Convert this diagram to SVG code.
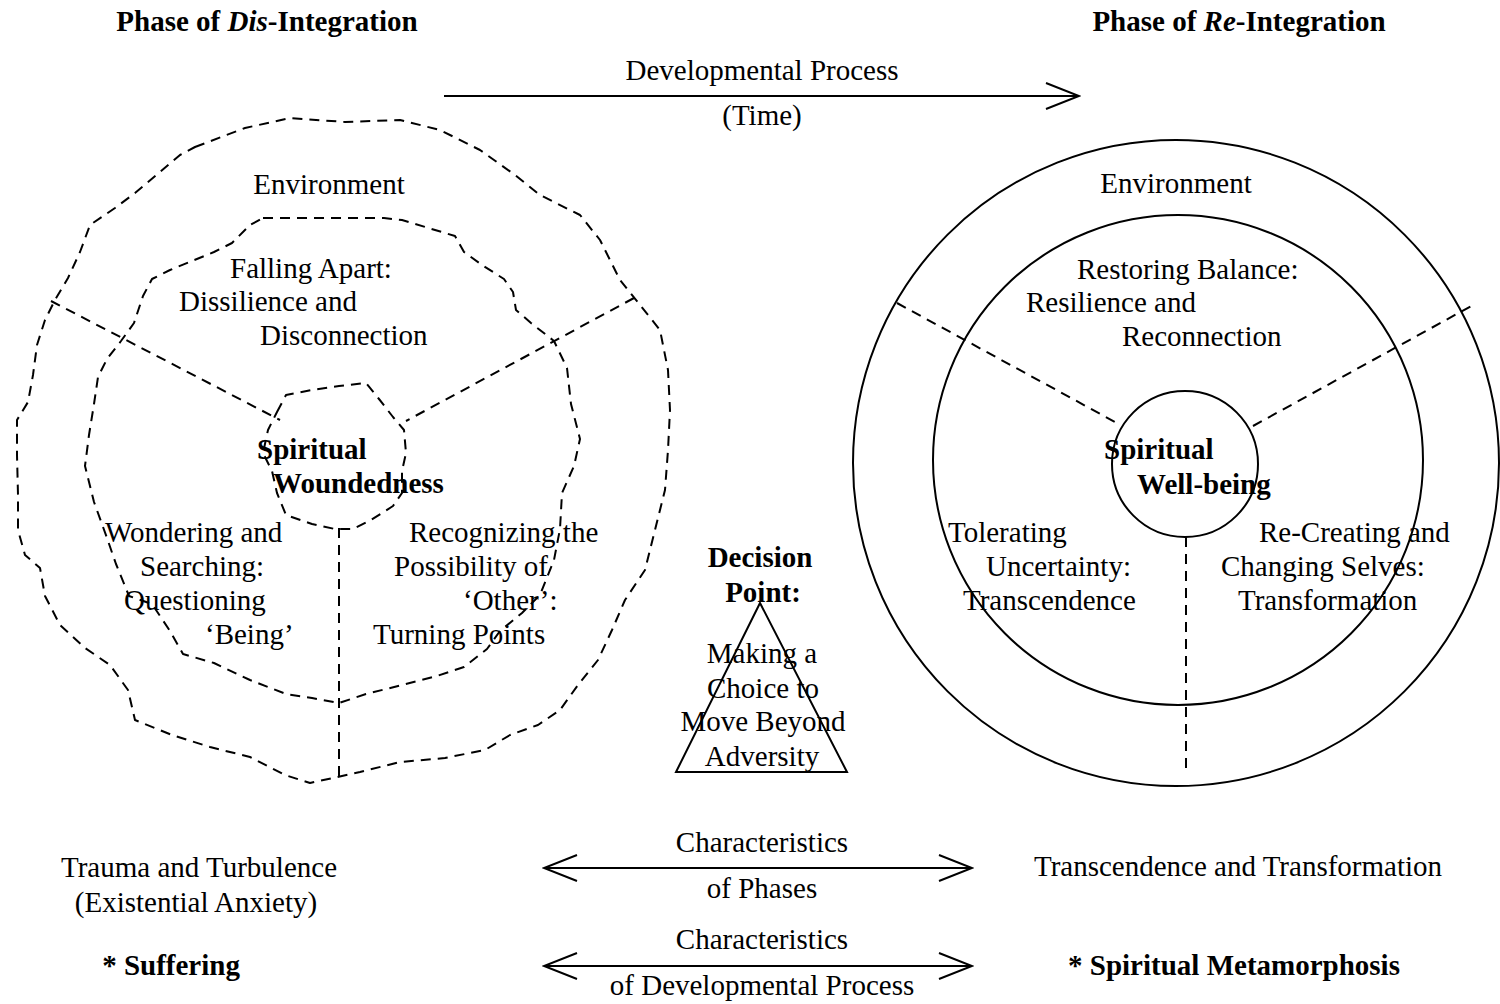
<svg xmlns="http://www.w3.org/2000/svg" width="1500" height="1004" viewBox="0 0 1500 1004">
  <defs>
    <style>
      text { font-family: "Liberation Serif", "Times New Roman", serif; font-size: 29px; fill: #000; }
      .b { font-weight: bold; }
      .c { text-anchor: middle; }
      .dash { fill: none; stroke: #000; stroke-width: 2; stroke-dasharray: 10 7; stroke-linejoin: round; }
      .solid { fill: none; stroke: #000; stroke-width: 2; }
    </style>
    <marker id="chev" viewBox="0 0 36 30" markerWidth="36" markerHeight="30" refX="34" refY="15" orient="auto-start-reverse" markerUnits="userSpaceOnUse">
      <path d="M1,2 L34,15 L1,28" fill="none" stroke="#000" stroke-width="2"/>
    </marker>
  </defs>
  <rect width="1500" height="1004" fill="#fff"/>

  <!-- Phase headings -->
  <g id="heading-dis">
    <text class="b c" x="267" y="31">Phase of <tspan font-style="italic">Dis</tspan>-Integration</text>
  </g>
  <g id="heading-re">
    <text class="b c" x="1239" y="31">Phase of <tspan font-style="italic">Re</tspan>-Integration</text>
  </g>

  <!-- Connectors -->
  <g id="connectors">
    <line class="solid" x1="444" y1="96" x2="1079" y2="96" marker-end="url(#chev)"/>
    <line class="solid" x1="544" y1="868" x2="972" y2="868" marker-start="url(#chev)" marker-end="url(#chev)"/>
    <line class="solid" x1="544" y1="966" x2="972" y2="966" marker-start="url(#chev)" marker-end="url(#chev)"/>
  </g>
  <g id="label-process">
    <text class="c" x="762" y="80">Developmental Process</text>
    <text class="c" x="762" y="125">(Time)</text>
  </g>

  <!-- Left figure: dis-integration -->
  <g id="dis-integration">
    <polygon class="dash" points="195,147 245,128 290,118 345,122 400,120 440,130 480,150 515,175 540,195 580,215 600,240 620,280 640,305 660,330 668,370 670,410 668,450 665,490 655,530 645,570 625,600 612,630 598,660 578,685 560,710 538,725 510,735 485,750 445,758 400,762 360,772 310,783 285,775 250,757 210,747 172,735 135,720 128,690 110,665 85,648 60,625 45,596 40,568 25,555 18,530 18,495 17,455 17,420 28,402 33,375 37,345 45,320 55,300 68,278 80,252 90,225 115,208 135,193 160,172 180,155"/>
    <polygon class="dash" points="263,218 312,218 384,218 402,220 455,236 464,252 482,265 504,279 513,292 516,310 531,323 554,341 567,368 571,404 580,439 574,466 562,493 560,529 554,560 540,595 522,613 500,631 487,649 464,667 437,676 402,685 366,694 339,703 312,698 286,694 250,680 214,663 183,654 170,631 152,604 129,596 116,564 107,538 94,502 85,466 89,435 94,404 98,377 107,359 121,341 134,323 143,296 152,279 170,270 192,261 214,252 232,243 250,225"/>
    <polygon class="dash" points="277,412 286,395 312,390 339,386 366,383 379,399 393,417 404,430 406,453 402,471 402,493 393,506 371,520 353,529 335,529 312,524 286,515 277,493 272,471 263,453 268,430"/>
    <line class="dash" x1="51" y1="301" x2="280" y2="420"/>
    <line class="dash" x1="634" y1="298" x2="406" y2="421"/>
    <line class="dash" x1="339" y1="528" x2="339" y2="777"/>

    <text class="c" x="329" y="194">Environment</text>
    <text x="230" y="278">Falling Apart:</text>
    <text x="179" y="311">Dissilience and</text>
    <text x="260" y="345">Disconnection</text>
    <text class="b" x="257" y="459">Spiritual</text>
    <text class="b" x="273" y="493">Woundedness</text>
    <text x="105" y="542">Wondering and</text>
    <text x="140" y="576">Searching:</text>
    <text x="124" y="610">Questioning</text>
    <text x="205" y="644">‘Being’</text>
    <text x="409" y="542">Recognizing the</text>
    <text x="394" y="576">Possibility of</text>
    <text x="463" y="610">‘Other’:</text>
    <text x="373" y="644">Turning Points</text>
  </g>

  <!-- Right figure: re-integration -->
  <g id="re-integration">
    <circle class="solid" cx="1176" cy="463" r="323"/>
    <circle class="solid" cx="1178" cy="460" r="245"/>
    <circle class="solid" cx="1185" cy="464" r="73"/>
    <line class="dash" x1="897" y1="303" x2="1115" y2="422"/>
    <line class="dash" x1="1253" y1="426" x2="1475" y2="304"/>
    <line class="dash" x1="1186" y1="537" x2="1186" y2="775"/>

    <text class="c" x="1176" y="193">Environment</text>
    <text x="1077" y="279">Restoring Balance:</text>
    <text x="1026" y="312">Resilience and</text>
    <text x="1122" y="346">Reconnection</text>
    <text class="b" x="1104" y="459">Spiritual</text>
    <text class="b" x="1137" y="494">Well-being</text>
    <text x="948" y="542">Tolerating</text>
    <text x="986" y="576">Uncertainty:</text>
    <text x="963" y="610">Transcendence</text>
    <text x="1259" y="542">Re-Creating and</text>
    <text x="1221" y="576">Changing Selves:</text>
    <text x="1238" y="610">Transformation</text>
  </g>

  <!-- Decision point -->
  <g id="decision-point">
    <polygon class="solid" points="760,603 847,772 676,772"/>
    <text class="b c" x="760" y="567">Decision</text>
    <text class="b c" x="763" y="602">Point:</text>
    <text class="c" x="762" y="663">Making a</text>
    <text class="c" x="763" y="698">Choice to</text>
    <text class="c" x="763" y="731">Move Beyond</text>
    <text class="c" x="762" y="766">Adversity</text>
  </g>

  <!-- Characteristics -->
  <g id="phase-chars-left">
    <text class="c" x="199" y="877">Trauma and Turbulence</text>
    <text class="c" x="196" y="912">(Existential Anxiety)</text>
  </g>
  <g id="phase-chars-label">
    <text class="c" x="762" y="852">Characteristics</text>
    <text class="c" x="762" y="898">of Phases</text>
  </g>
  <g id="phase-chars-right">
    <text class="c" x="1238" y="876">Transcendence and Transformation</text>
  </g>
  <g id="process-chars-left">
    <text class="b c" x="171" y="975">* Suffering</text>
  </g>
  <g id="process-chars-label">
    <text class="c" x="762" y="949">Characteristics</text>
    <text class="c" x="762" y="995">of Developmental Process</text>
  </g>
  <g id="process-chars-right">
    <text class="b c" x="1234" y="975">* Spiritual Metamorphosis</text>
  </g>
</svg>
